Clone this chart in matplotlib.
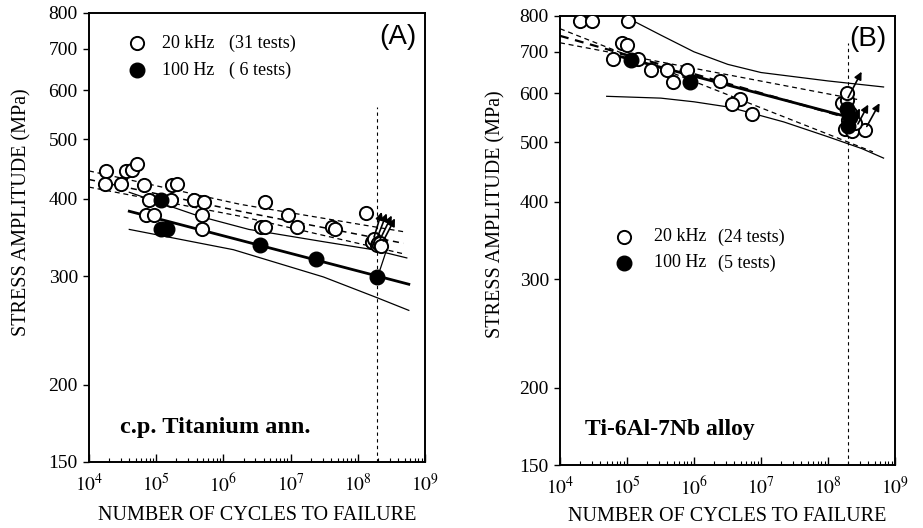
import numpy as np
import matplotlib
matplotlib.use('Agg')
import matplotlib.pyplot as plt
from matplotlib.ticker import FixedLocator, FixedFormatter, LogLocator, FuncFormatter, NullFormatter

'''
    S-N curves of two titanium materials, 20 kHz vs 100 Hz tests
'''

plt.rcParams['font.family'] = ['Liberation Serif', 'DejaVu Serif']
plt.rcParams['mathtext.fontset'] = 'stix'

# ---------------- panel A : c.p. titanium annealed ----------------
A_open_N = [1.81e4, 1.73e4, 3.03e4, 3.52e4, 4.41e4, 5.23e4, 6.58e4, 7.81e4, 6.98e4, 9.27e4,
            1.64e5, 1.74e5, 2.06e5, 3.65e5, 5.14e5, 4.85e5, 4.75e5, 4.16e6, 3.59e6, 4.16e6,
            9.25e6, 1.23e7, 4.09e7, 4.58e7, 1.32e8,
            1.61e8, 1.75e8, 1.91e8, 2.0e8, 2.14e8, 2.25e8]
A_open_S = [444, 423, 423, 444, 445, 456, 421, 398, 377, 377,
            398, 421, 423, 399, 396, 377, 358, 396, 360, 360,
            377, 360, 360, 358, 379,
            341, 344, 337, 340, 339, 335]
A_full_N = [1.16e5, 1.2e5, 1.45e5, 3.5e6, 2.4e7, 1.91e8]
A_full_S = [398, 357, 357, 337, 320, 299]

A_mean_N = [3.98e4, 5.75e8]
A_mean_S = [382, 291]
A_up_N = [3.98e4, 4.37e5, 2.4e6, 3.09e7, 1.7e8, 5.37e8]
A_up_S = [410, 375, 357, 341, 331, 321]
A_lo_N = [3.98e4, 1.41e6, 3.09e7, 1.9e8, 5.75e8]
A_lo_S = [357, 331, 299, 277, 264]

A_dash_N = [1e4, 1.78e6, 4.79e8]
A_dash1_S = [444, 392, 354]
A_dash2_S = [430, 382, 339]
A_dash3_S = [418, 375, 326]

A_arrow_N0 = [1.75e8, 1.95e8, 2.15e8, 2.4e8]
A_arrow_S0 = [347, 346, 344, 342]
A_arrow_N1 = [2.27e8, 2.69e8, 3.2e8, 3.58e8]
A_arrow_S1 = [381, 379, 376, 372]
A_link_N = [2.69e8, 2.14e8]
A_link_S = [331, 307]

A_limit_N = 1.93e8
A_limit_top = 563

# ---------------- panel B : Ti-6Al-7Nb ----------------
B_open_N = [1.99e4, 3.0e4, 1.02e5, 8.4e4, 1.0e5, 6.18e4, 1.46e5, 2.26e5, 3.9e5, 4.86e5,
            7.78e5, 2.44e6, 4.86e6, 3.65e6, 7.26e6,
            1.6e8, 1.9e8, 1.8e8, 2.3e8, 3.6e8, 2.0e8, 2.1e8, 1.9e8, 2.5e8]
B_open_S = [785, 785, 785, 724, 718, 681, 681, 654, 654, 626,
            654, 628, 588, 576, 555,
            578, 584, 525, 522, 523, 543, 557, 600, 536]
B_full_N = [1.14e5, 8.7e5, 1.95e8, 2.1e8, 2.0e8]
B_full_S = [678, 626, 565, 548, 530]

B_mean_N = [7.08e4, 2.0e8]
B_mean_S = [690, 549]
B_up_N = [7.5e4, 1.0e5, 3.2e5, 1.0e6, 3.2e6, 1.0e7, 1.0e8, 6.76e8]
B_up_S = [810, 795, 745, 700, 668, 648, 628, 614]
B_lo_N = [4.98e4, 3.2e5, 1.0e6, 3.2e6, 6.03e6, 2.19e7, 1.0e8, 3.2e8, 6.76e8]
B_lo_S = [593, 589, 581, 570, 560, 539, 510, 488, 471]

B_dash1_N = [1e4, 4.7e8]
B_dash1_S = [763, 482]
B_dash2_N = [1e4, 3.0e8]
B_dash2_S = [724, 585]
B_dash3_N = [1e4, 2.0e8]
B_dash3_S = [743, 547]

B_arrow_N0 = [2.0e8, 2.05e8, 2.3e8, 2.8e8, 3.8e8]
B_arrow_S0 = [590, 535, 535, 535, 530]
B_arrow_N1 = [3.18e8, 2.5e8, 3.0e8, 4.0e8, 5.9e8]
B_arrow_S1 = [650, 560, 567, 575, 578]

B_limit_N = 2.0e8
B_limit_top = 723

Y_TICKS = [150, 200, 300, 400, 500, 600, 700, 800]


def setup_axes(ax):
    ax.set_xscale('log')
    ax.set_yscale('log')
    ax.set_xlim(1e4, 1e9)
    ax.set_ylim(150, 800)
    ax.xaxis.set_major_locator(LogLocator(base=10, numticks=10))
    ax.xaxis.set_minor_locator(LogLocator(base=10, subs=np.arange(2, 10), numticks=20))
    ax.xaxis.set_major_formatter(FuncFormatter(lambda v, p: r'$10^{%d}$' % round(np.log10(v))))
    ax.xaxis.set_minor_formatter(NullFormatter())
    ax.yaxis.set_major_locator(FixedLocator(Y_TICKS))
    ax.yaxis.set_major_formatter(FixedFormatter([str(t) for t in Y_TICKS]))
    ax.yaxis.set_minor_locator(FixedLocator([]))
    ax.yaxis.set_minor_formatter(NullFormatter())
    ax.tick_params(axis='x', which='major', direction='in', length=6, width=1.0,
                   labelsize=14, pad=8, top=False)
    ax.tick_params(axis='x', which='minor', direction='in', length=3, width=0.8, top=False)
    ax.tick_params(axis='y', which='major', direction='out', length=4, width=1.0,
                   labelsize=14, pad=4, right=False)
    for s in ax.spines.values():
        s.set_linewidth(1.4)


def plot_panel(ax, d):
    setup_axes(ax)
    ax.plot(d['up_N'], d['up_S'], color='k', lw=0.9, zorder=2)
    ax.plot(d['lo_N'], d['lo_S'], color='k', lw=0.9, zorder=2)
    ax.plot(d['mean_N'], d['mean_S'], color='k', lw=2.0, zorder=2)
    for n, s, w in d['dashes']:
        ax.plot(n, s, color='k', lw=w, ls=(0, (4, 3)), zorder=2)
    ax.plot([d['limit_N'], d['limit_N']], [150, d['limit_top']], color='k', lw=0.8,
            ls=(0, (3, 3)), zorder=1)
    ax.plot(d['open_N'], d['open_S'], 'o', ms=9.5, mfc='white', mec='k', mew=1.4, zorder=3)
    ax.plot(d['full_N'], d['full_S'], 'o', ms=10.5, mfc='k', mec='k', zorder=4)
    for n0, s0, n1, s1 in zip(d['a_N0'], d['a_S0'], d['a_N1'], d['a_S1']):
        ax.annotate('', xy=(n1, s1), xytext=(n0, s0),
                    arrowprops=dict(arrowstyle='-|>', color='k', lw=1.2, mutation_scale=11,
                                    shrinkA=0, shrinkB=0), zorder=5)


def main():
    fig = plt.figure(figsize=(9.23, 5.28), dpi=100)
    axA = fig.add_axes([0.0964, 0.125, 0.3640, 0.8504])
    axB = fig.add_axes([0.6067, 0.1193, 0.3629, 0.8504])

    plot_panel(axA, dict(open_N=A_open_N, open_S=A_open_S, full_N=A_full_N, full_S=A_full_S,
                         mean_N=A_mean_N, mean_S=A_mean_S, up_N=A_up_N, up_S=A_up_S,
                         lo_N=A_lo_N, lo_S=A_lo_S,
                         dashes=[(A_dash_N, A_dash1_S, 0.9), (A_dash_N, A_dash2_S, 1.1),
                                 (A_dash_N, A_dash3_S, 0.9)],
                         limit_N=A_limit_N, limit_top=A_limit_top,
                         a_N0=A_arrow_N0, a_S0=A_arrow_S0, a_N1=A_arrow_N1, a_S1=A_arrow_S1))
    axA.plot(A_link_N, A_link_S, color='k', lw=0.9, zorder=5)

    plot_panel(axB, dict(open_N=B_open_N, open_S=B_open_S, full_N=B_full_N, full_S=B_full_S,
                         mean_N=B_mean_N, mean_S=B_mean_S, up_N=B_up_N, up_S=B_up_S,
                         lo_N=B_lo_N, lo_S=B_lo_S,
                         dashes=[(B_dash1_N, B_dash1_S, 0.9), (B_dash2_N, B_dash2_S, 0.9),
                                 (B_dash3_N, B_dash3_S, 1.6)],
                         limit_N=B_limit_N, limit_top=B_limit_top,
                         a_N0=B_arrow_N0, a_S0=B_arrow_S0, a_N1=B_arrow_N1, a_S1=B_arrow_S1))

    # legends (hand placed, like the original figure)
    for ax, xm, xt, xc, ym, labels in [
            (axA, 0.143, 0.217, 0.417, (0.933, 0.873), ('20 kHz', '(31 tests)', '100 Hz', '( 6 tests)')),
            (axB, 0.191, 0.281, 0.472, (0.508, 0.450), ('20 kHz', '(24 tests)', '100 Hz', '(5 tests)'))]:
        ax.plot([xm], [ym[0]], 'o', ms=9.5, mfc='white', mec='k', mew=1.4, transform=ax.transAxes)
        ax.plot([xm], [ym[1]], 'o', ms=10.5, mfc='k', mec='k', transform=ax.transAxes)
        ax.text(xt, ym[0], labels[0], transform=ax.transAxes, fontsize=13, va='center')
        ax.text(xc, ym[0], labels[1], transform=ax.transAxes, fontsize=13, va='center')
        ax.text(xt, ym[1], labels[2], transform=ax.transAxes, fontsize=13, va='center')
        ax.text(xc, ym[1], labels[3], transform=ax.transAxes, fontsize=13, va='center')

    axA.text(0.976, 0.947, '(A)', transform=axA.transAxes, ha='right', va='center',
             fontsize=20, family=['Liberation Sans', 'DejaVu Sans'])
    axB.text(0.976, 0.949, '(B)', transform=axB.transAxes, ha='right', va='center',
             fontsize=20, family=['Liberation Sans', 'DejaVu Sans'])
    axA.text(0.092, 0.076, 'c.p. Titanium ann.', transform=axA.transAxes, va='center',
             fontsize=17.5, fontweight='bold')
    axB.text(0.075, 0.078, 'Ti-6Al-7Nb alloy', transform=axB.transAxes, va='center',
             fontsize=17, fontweight='bold')

    fig.text(0.024, 0.599, 'STRESS AMPLITUDE (MPa)', rotation=90, ha='center', va='center', fontsize=14.5)
    fig.text(0.537, 0.595, 'STRESS AMPLITUDE (MPa)', rotation=90, ha='center', va='center', fontsize=14.5)
    fig.text(0.2784, 0.0246, 'NUMBER OF CYCLES TO FAILURE', ha='center', va='center', fontsize=14.5)
    fig.text(0.788, 0.021, 'NUMBER OF CYCLES TO FAILURE', ha='center', va='center', fontsize=14.5)

    fig.savefig('out.png', dpi=100)


if __name__ == '__main__':
    main()
